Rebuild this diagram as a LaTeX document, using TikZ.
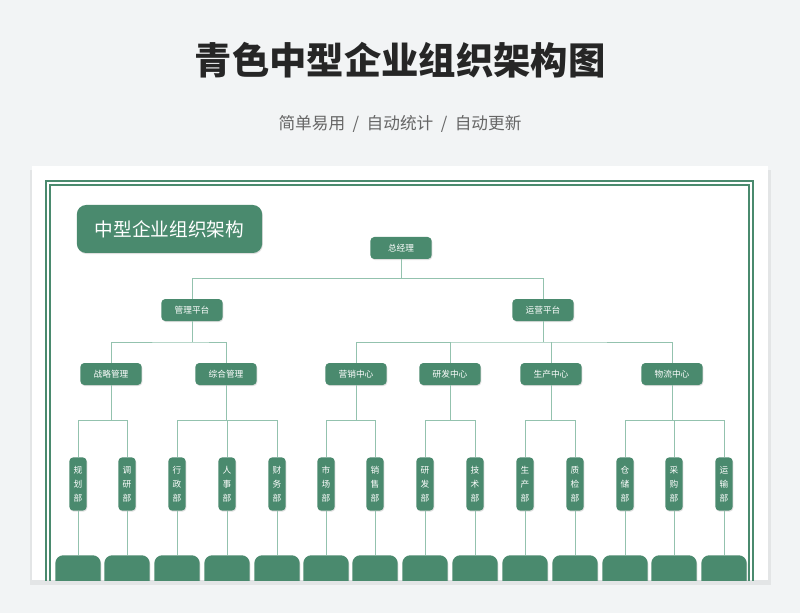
\documentclass[tikz,border=0pt]{standalone}
\usepackage{fontspec}
\setmainfont{Noto Sans CJK SC}
\usetikzlibrary{shadows}
\definecolor{qing}{HTML}{4A8A6E}
\definecolor{qingline}{HTML}{93C2AE}
\definecolor{bg}{HTML}{F2F4F5}
\tikzset{
  box/.style={rectangle, rounded corners=3pt, fill=qing, text=white, minimum width=46pt, minimum height=16.5pt, inner sep=1pt, font=\fontsize{6.5}{7}\selectfont, drop shadow={opacity=0.25, shadow xshift=0.5pt, shadow yshift=-0.8pt}},
  vbox/.style={box, minimum width=13pt, minimum height=40pt, align=center, font=\fontsize{6.5}{10.5}\selectfont},
  link/.style={qingline, line width=0.6pt}
}
\begin{document}
\begin{tikzpicture}[x=0.75pt, y=-0.75pt]
  \fill[bg] (0,0) rectangle (800,613);
  \node[font=\bfseries\fontsize{28}{30}\selectfont, text=black!85] (title) at (400,60) {青色中型企业组织架构图};
  \node[font=\fontsize{12.5}{14}\selectfont, text=black!60] (sub) at (400,124) {简单易用 \ / \ 自动统计 \ / \ 自动更新};
  \fill[black, opacity=0.06] (30,170) rectangle (771,585);
  \fill[white] (32,166) rectangle (768,580);
  \begin{scope}
  \clip (32,166) rectangle (768,580);
  \draw[qing, line width=1.6pt] (46,600) -- (46,181) -- (753,181) -- (753,600);
  \draw[qing, line width=0.8pt] (50,600) -- (50,185) -- (749,185) -- (749,600);
  \node[box, minimum width=139pt, minimum height=36pt, rounded corners=7pt, font=\fontsize{14}{15}\selectfont] (head) at (169.5,229) {中型企业组织架构};
  \node[box] (gm) at (401,248) {总经理};
  \node[box] (mp) at (192,310) {管理平台};
  \node[box] (op) at (543,310) {运营平台};
  \node[box] (zl) at (111,374) {战略管理};
  \node[box] (zh) at (226,374) {综合管理};
  \node[box] (yx) at (356,374) {营销中心};
  \node[box] (yf) at (450,374) {研发中心};
  \node[box] (sc) at (551,374) {生产中心};
  \node[box] (wl) at (672,374) {物流中心};
  % departments
  \node[vbox] (d1) at (78,484) {规\\划\\部};
  \node[vbox] (d2) at (127,484) {调\\研\\部};
  \node[vbox] (d3) at (177,484) {行\\政\\部};
  \node[vbox] (d4) at (227,484) {人\\事\\部};
  \node[vbox] (d5) at (277,484) {财\\务\\部};
  \node[vbox] (d6) at (326,484) {市\\场\\部};
  \node[vbox] (d7) at (375,484) {销\\售\\部};
  \node[vbox] (d8) at (425,484) {研\\发\\部};
  \node[vbox] (d9) at (475,484) {技\\术\\部};
  \node[vbox] (d10) at (525,484) {生\\产\\部};
  \node[vbox] (d11) at (575,484) {质\\检\\部};
  \node[vbox] (d12) at (625,484) {仓\\储\\部};
  \node[vbox] (d13) at (674,484) {采\\购\\部};
  \node[vbox] (d14) at (724,484) {运\\输\\部};
  \foreach \i/\x in {1/78,2/127,3/177,4/227,5/277,6/326,7/375,8/425,9/475,10/525,11/575,12/625,13/674,14/724}
    \node[box, minimum width=34pt, minimum height=30pt, rounded corners=6pt, anchor=north] (e\i) at (\x,555) {};
  \draw[link] (gm.south) -- (401,278) (mp.north) -- (192,278) -| (op.north);
  \draw[link] (mp.south) -- (192,342) (zl.north) |- (192,342) -| (zh.north);
  \draw[link] (op.south) -- (543,342) (yx.north) |- (543,342) -| (wl.north);
  \draw[link] (yf.north) -- (450,342) (sc.north) -- (551,342);
  \draw[link] (zl.south) -- (111,420) (d1.north) |- (127,420) -- (d2.north);
  \draw[link] (zh.south) -- (226,420) (d3.north) |- (277,420) -- (d5.north) (d4.north) -- (227,420);
  \draw[link] (yx.south) -- (356,420) (d6.north) |- (375,420) -- (d7.north);
  \draw[link] (yf.south) -- (450,420) (d8.north) |- (475,420) -- (d9.north);
  \draw[link] (sc.south) -- (551,420) (d10.north) |- (575,420) -- (d11.north);
  \draw[link] (wl.south) -- (672,420) (d12.north) |- (724,420) -- (d14.north) (d13.north) -- (674,420);
  \foreach \i in {1,...,14}
    \draw[link] (d\i.south) -- (e\i.north);
  \end{scope}
\end{tikzpicture}
\end{document}
